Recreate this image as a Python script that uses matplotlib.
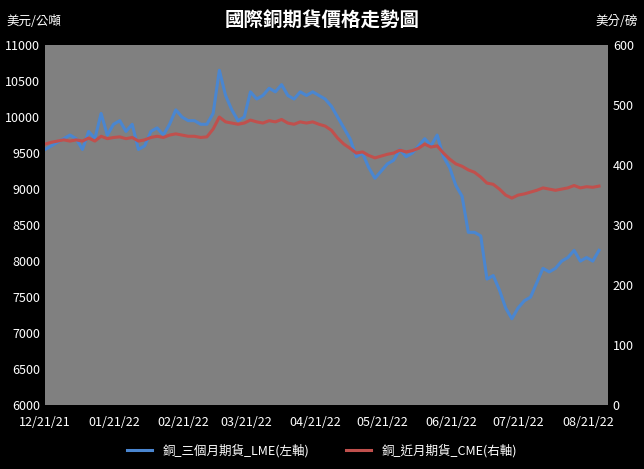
import pandas as pd
import matplotlib
matplotlib.use("Agg")
import matplotlib.pyplot as plt
import matplotlib.dates as mdates

plt.rcParams['font.family'] = ['Noto Sans CJK TC', 'DejaVu Sans']

lme = [9550, 9600, 9650, 9700, 9750,
       9700, 9550, 9800, 9700, 10050, 9750, 9900, 9950, 9800, 9900, 9550, 9600, 9800,
       9850, 9750, 9900, 10100, 10000, 9950, 9950, 9900, 9900,
       10050, 10650, 10300, 10100, 9950, 10000, 10350, 10250, 10300, 10400, 10350, 10450,
       10300, 10250, 10350, 10300, 10350, 10300, 10250, 10150, 10000, 9850,
       9700, 9450, 9500, 9300, 9150, 9250, 9350, 9400, 9550, 9450, 9500, 9600,
       9700, 9600, 9750, 9450, 9300, 9050, 8900, 8400, 8400, 8350,
       7750, 7800, 7600, 7350, 7200, 7350, 7450, 7500, 7700, 7900, 7850,
       7900, 8000, 8050, 8150, 8000, 8050, 8000, 8150]
cme = [435, 438, 440, 442, 440,
       442, 440, 445, 440, 448, 444, 446, 447, 444, 446, 440, 442, 446,
       448, 446, 450, 452, 450, 448, 448, 446, 447,
       460, 480, 472, 470, 468, 470, 475, 472, 470, 474, 472, 476,
       470, 468, 472, 470, 472, 468, 465, 458, 445, 435,
       428, 420, 422, 416, 412, 415, 418, 420, 425, 422, 424, 428,
       435, 430, 432, 420, 410, 402, 398, 392, 388, 380,
       370, 368, 360, 350, 345, 350, 352, 355, 358, 362, 360,
       358, 360, 362, 366, 362, 364, 363, 365]
dates = pd.date_range('2021-12-21', '2022-08-26', periods=len(lme))
tick_dates = pd.date_range('2021-12-21', '2022-08-21', freq='MS') + pd.Timedelta(days=20)
tick_dates = [pd.Timestamp('2021-12-21')] + list(tick_dates)

fig = plt.figure(figsize=(6.44, 4.69), dpi=100, facecolor='black')
ax = fig.add_axes([0.07, 0.136, 0.874, 0.768])
ax.set_facecolor('#808080')
ax2 = ax.twinx()

ax.plot(dates, lme, color='#4a86d0', lw=2.2, label='銅_三個月期貨_LME(左軸)')
ax2.plot(dates, cme, color='#c0504d', lw=2.2, label='銅_近月期貨_CME(右軸)')

ax.set_ylim(6000, 11000)
ax.set_yticks(range(6000, 11001, 500))
ax2.set_ylim(0, 600)
ax2.set_yticks(range(0, 601, 100))
ax.set_xlim(pd.Timestamp('2021-12-21'), pd.Timestamp('2022-08-30'))
ax.set_xticks(tick_dates)
ax.xaxis.set_major_formatter(mdates.DateFormatter('%m/%d/%y'))

for a in (ax, ax2):
    a.tick_params(colors='white', labelsize=9, length=0)
    for s in a.spines.values():
        s.set_visible(False)
ax.tick_params(axis='x', pad=8)

fig.text(0.5, 0.955, '國際銅期貨價格走勢圖', color='white', fontsize=14,
         fontweight='bold', ha='center', va='center')
fig.text(0.01, 0.955, '美元/公噸', color='white', fontsize=9, va='center')
fig.text(0.99, 0.955, '美分/磅', color='white', fontsize=9, va='center', ha='right')

h1, l1 = ax.get_legend_handles_labels()
h2, l2 = ax2.get_legend_handles_labels()
leg = fig.legend(h1 + h2, l1 + l2, loc='lower center', ncol=2, frameon=False,
                 fontsize=9, bbox_to_anchor=(0.5, 0.0), columnspacing=3)
for t in leg.get_texts():
    t.set_color('white')

fig.savefig('out.png', facecolor='black')
